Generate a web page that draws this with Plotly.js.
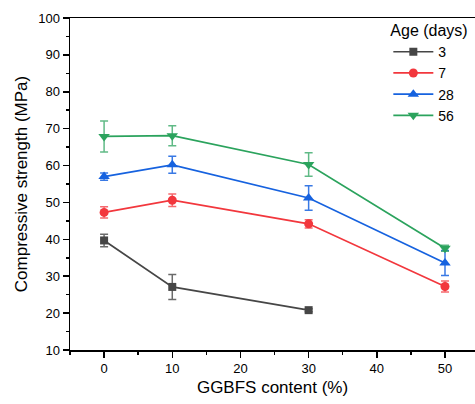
<!DOCTYPE html>
<html>
<head>
<meta charset="utf-8">
<script src="https://cdn.plot.ly/plotly-3.0.1.min.js"></script>
<style>
html,body{margin:0;padding:0;background:#fff;overflow:hidden;}
#chart{width:475px;height:404px;}
</style>
</head>
<body>
<div id="chart"></div>
<script>
// GGBFS content (%)
const x3 = [0, 10, 30];
const x7 = [0, 10, 30, 50];
const x28 = [0, 10, 30, 50];
const x56 = [0, 10, 30, 50];

// Compressive strength (MPa)
const y3 = [39.7, 27.1, 20.8];
const e3 = [1.7, 3.4, 0.4];
const y7 = [47.3, 50.6, 44.2, 27.2];
const e7 = [1.5, 1.7, 1.1, 1.5];
const y28 = [57.0, 60.2, 51.2, 33.6];
const e28 = [1.0, 2.3, 3.3, 3.4];
const y56 = [67.9, 68.1, 60.3, 37.6];
const e56 = [4.2, 2.7, 3.2, 0.8];

const names = ['3', '7', '28', '56'];
const colors = ['#464646', '#F2373D', '#1662DF', '#2BA35D'];
const errColors = ['rgba(70,70,70,0.8)', 'rgba(242,55,61,0.75)', 'rgba(22,98,223,0.85)', 'rgba(43,163,93,0.75)'];
const symbols = ['square', 'circle', 'triangle-up', 'triangle-down'];
const sizes = [8, 9, 10, 10];

const xs = [x3, x7, x28, x56];
const ys = [y3, y7, y28, y56];
const es = [e3, e7, e28, e56];

const traces = names.map((n, i) => ({
  x: xs[i], y: ys[i], name: n, type: 'scatter', mode: 'lines+markers',
  line: {color: colors[i], width: 1.7},
  marker: {color: colors[i], symbol: symbols[i], size: sizes[i]},
  error_y: {type: 'data', array: es[i], visible: true, color: errColors[i], thickness: 1.5, width: 4}
}));

const font = 'Liberation Sans, Arial, sans-serif';
const layout = {
  width: 475, height: 404,
  margin: {l: 70, r: 0, t: 18, b: 54},
  paper_bgcolor: '#ffffff', plot_bgcolor: '#ffffff',
  font: {family: font, color: '#000', size: 13},
  showlegend: true,
  legend: {
    x: 0.786, y: 1.008, xanchor: 'left', yanchor: 'top',
    bgcolor: 'rgba(0,0,0,0)', borderwidth: 0,
    itemwidth: 40,
    font: {family: font, size: 14, color: '#000'},
    title: {text: 'Age (days)', font: {family: font, size: 16, color: '#000'}},
    tracegroupgap: 0
  },
  xaxis: {
    range: [-5, 54.4], tickmode: 'linear', tick0: 0, dtick: 10,
    showgrid: false, zeroline: false,
    showline: true, linecolor: '#000', linewidth: 1.5, mirror: true,
    ticks: 'outside', ticklen: 6, tickwidth: 1.5, tickcolor: '#000',
    minor: {dtick: 5, tick0: 0, ticks: 'outside', ticklen: 3, tickwidth: 1.5, tickcolor: '#000'},
    tickfont: {family: font, size: 13, color: '#000'},
    title: {text: 'GGBFS content (%)', font: {family: font, size: 17, color: '#000'}, standoff: 6}
  },
  yaxis: {
    range: [10, 100], tickmode: 'linear', tick0: 0, dtick: 10,
    showgrid: false, zeroline: false,
    showline: true, linecolor: '#000', linewidth: 1.5,
    ticks: 'outside', ticklen: 6, tickwidth: 1.5, tickcolor: '#000',
    minor: {dtick: 5, tick0: 0, ticks: 'outside', ticklen: 3, tickwidth: 1.5, tickcolor: '#000'},
    tickfont: {family: font, size: 13, color: '#000'},
    title: {text: 'Compressive strength (MPa)', font: {family: font, size: 17, color: '#000'}, standoff: 6}
  }
};

Plotly.newPlot('chart', traces, layout, {displayModeBar: false, staticPlot: true});
</script>
</body>
</html>
